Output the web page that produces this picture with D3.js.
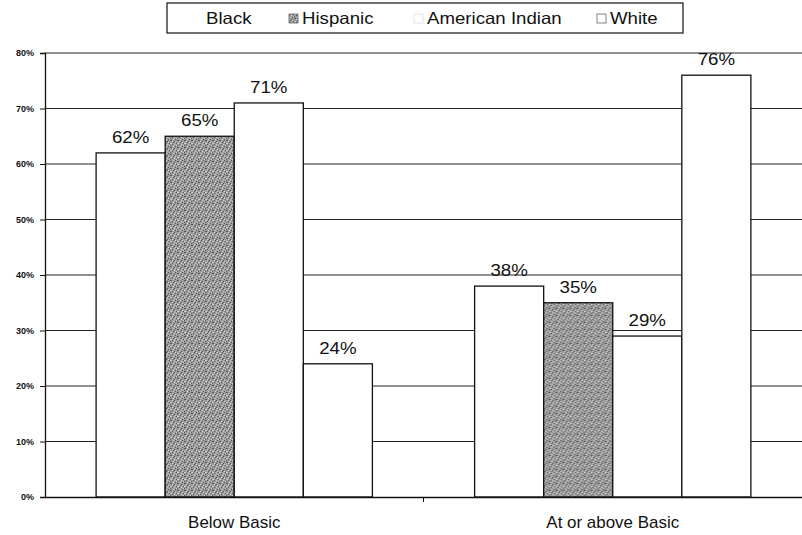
<!DOCTYPE html>
<html>
<head>
<meta charset="utf-8">
<script src="https://cdn.jsdelivr.net/npm/d3@7"></script>
<style>
  body { margin: 0; background: #fff; }
  svg { display: block; }
</style>
</head>
<body>
<div id="chart"></div>
<script>
// chart data
const categories = ["Below Basic", "At or above Basic"];
const series = ["Black", "Hispanic", "American Indian", "White"];
const values = {
    "Black": [62, 38],
    "Hispanic": [65, 35],
    "American Indian": [71, 29],
    "White": [24, 76]
};
const yTicks = [0, 10, 20, 30, 40, 50, 60, 70, 80];

const width = 802, height = 535;
const margin = { top: 53, right: 0, bottom: 38, left: 45 };
const font = "Liberation Sans, Arial, sans-serif";

const svg = d3.select("#chart").append("svg")
    .attr("width", width)
    .attr("height", height);

// speckled gray fill for the Hispanic bars (fixed dot layout, 7x7 tile)
const defs = svg.append("defs");
const pat = defs.append("pattern")
    .attr("id", "speckle")
    .attr("patternUnits", "userSpaceOnUse")
    .attr("width", 7).attr("height", 7);
pat.append("rect").attr("width", 7).attr("height", 7).attr("fill", "#9c9c9c");
const darkDots = [[0, 0], [3, 1], [5, 3], [1, 4], [4, 6], [6, 0], [2, 2], [6, 5]];
const lightDots = [[1, 1], [4, 2], [0, 3], [3, 4], [6, 3], [2, 6], [5, 5]];
pat.selectAll(".dk").data(darkDots).join("rect")
    .attr("x", d => d[0]).attr("y", d => d[1])
    .attr("width", 1).attr("height", 1).attr("fill", "#555");
pat.selectAll(".lt").data(lightDots).join("rect")
    .attr("x", d => d[0]).attr("y", d => d[1])
    .attr("width", 1).attr("height", 1).attr("fill", "#cfcfcf");

const fills = {
    "Black": "#ffffff",
    "Hispanic": "url(#speckle)",
    "American Indian": "#ffffff",
    "White": "#ffffff"
};

const x0 = d3.scaleBand()
    .domain(categories)
    .range([margin.left, width - margin.right])
    .padding(0);

const x1 = d3.scaleBand()
    .domain(series)
    .range([0, x0.bandwidth()])
    .paddingInner(0)
    .paddingOuter(0.74);

const y = d3.scaleLinear()
    .domain([0, 80])
    .range([height - margin.bottom, margin.top]);

// the scanned text is a little wider than plain Arial
const stretch = (x, y, s) => `translate(${x},${y}) scale(${s},1)`;

// gridlines
svg.append("g")
    .selectAll("line")
    .data(yTicks.filter(d => d > 0))
    .join("line")
    .attr("x1", margin.left)
    .attr("x2", width - margin.right)
    .attr("y1", d => y(d))
    .attr("y2", d => y(d))
    .attr("stroke", "#222")
    .attr("stroke-width", 1.2);

// bars
const groups = svg.append("g")
    .selectAll("g")
    .data(categories)
    .join("g")
    .attr("transform", d => `translate(${x0(d)},0)`);

groups.selectAll("rect")
    .data((c, ci) => series.map(s => ({ s: s, v: values[s][ci] })))
    .join("rect")
    .attr("x", d => x1(d.s))
    .attr("y", d => y(d.v))
    .attr("width", x1.bandwidth())
    .attr("height", d => y(0) - y(d.v))
    .attr("fill", d => fills[d.s])
    .attr("stroke", "#111")
    .attr("stroke-width", 1.3);

groups.selectAll("text")
    .data((c, ci) => series.map(s => ({ s: s, v: values[s][ci] })))
    .join("text")
    .attr("transform", d => stretch(x1(d.s) + x1.bandwidth() / 2, y(d.v) - 10, 1.1))
    .attr("text-anchor", "middle")
    .style("font-family", font)
    .style("font-size", "17px")
    .attr("fill", "#111")
    .text(d => d.v + "%");

// y axis
const yAxis = d3.axisLeft(y)
    .tickValues(yTicks)
    .tickSize(5)
    .tickFormat(d => d + "%");

const yg = svg.append("g")
    .attr("transform", `translate(${margin.left},0)`)
    .call(yAxis);
yg.select(".domain").attr("stroke", "#111").attr("stroke-width", 1.3);
yg.selectAll(".tick line").attr("stroke", "#111");
yg.selectAll(".tick text")
    .attr("x", -11)
    .style("font-family", font)
    .style("font-size", "9px")
    .style("font-weight", "bold")
    .attr("fill", "#111");

// x axis
const xAxis = d3.axisBottom(x0).tickSize(0).tickFormat(() => "");
const xg = svg.append("g")
    .attr("transform", `translate(0,${y(0)})`)
    .call(xAxis);
xg.select(".domain").attr("stroke", "#111").attr("stroke-width", 1.3);

// divider tick between the groups
svg.append("line")
    .attr("x1", x0(categories[1])).attr("x2", x0(categories[1]))
    .attr("y1", y(0)).attr("y2", y(0) + 5)
    .attr("stroke", "#111");

svg.append("g")
    .selectAll("text")
    .data(categories)
    .join("text")
    .attr("transform", d => stretch(x0(d) + x0.bandwidth() / 2, y(0) + 31, 1.06))
    .attr("text-anchor", "middle")
    .style("font-family", font)
    .style("font-size", "16px")
    .attr("fill", "#111")
    .text(d => d);

// legend
const legend = svg.append("g");
legend.append("rect")
    .attr("x", 167).attr("y", 3)
    .attr("width", 516).attr("height", 30)
    .attr("fill", "#fff")
    .attr("stroke", "#111")
    .attr("stroke-width", 1.2);

const legendX = [206, 302, 427, 610];
const legendItems = legend.selectAll("g")
    .data(series)
    .join("g")
    .attr("transform", (d, i) => `translate(${legendX[i]},18)`);

legendItems.append("rect")
    .attr("x", -13).attr("y", -4)
    .attr("width", 9).attr("height", 9)
    .attr("fill", d => fills[d])
    .attr("stroke", d => d === "Black" ? "none" : (d === "American Indian" ? "#ddd" : "#666"))
    .attr("stroke-width", 0.8);

legendItems.append("text")
    .attr("transform", stretch(0, 6, 1.13))
    .style("font-family", font)
    .style("font-size", "16.5px")
    .attr("fill", "#111")
    .text(d => d);
</script>
</body>
</html>
